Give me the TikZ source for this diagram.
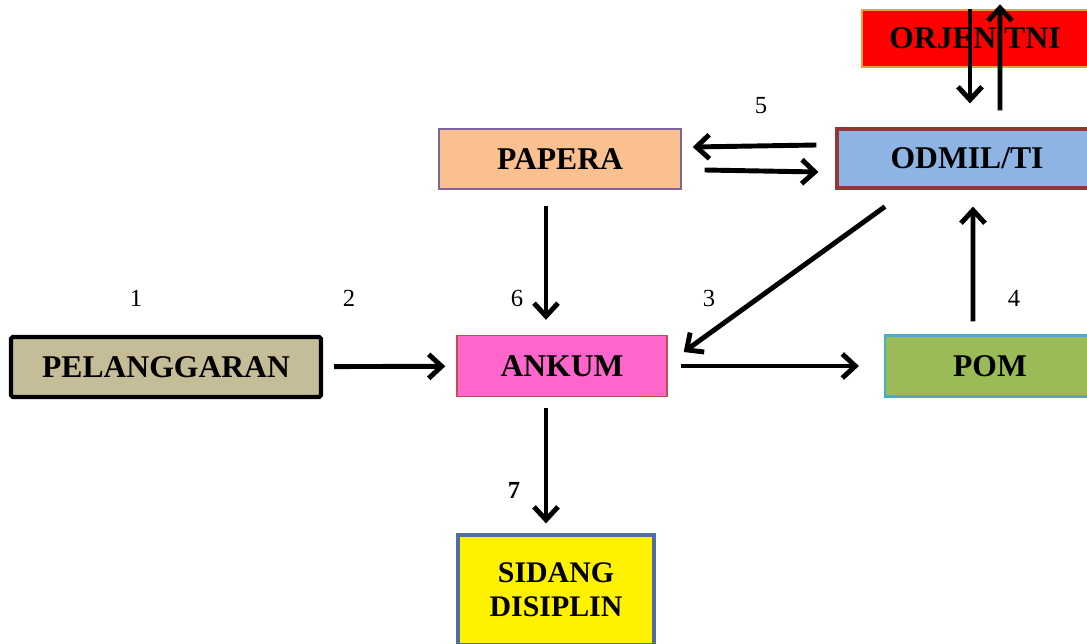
\documentclass[tikz,border=0pt]{standalone}
\usepackage{fontspec}
\setmainfont{Liberation Serif}
\usepackage{xcolor}
\usepackage{tikz}
\usetikzlibrary{arrows.meta,positioning}

\definecolor{orjenfill}{HTML}{FF0000}
\definecolor{orjenline}{HTML}{F79646}
\definecolor{odmilfill}{HTML}{8DB4E2}
\definecolor{odmilline}{HTML}{943634}
\definecolor{paperafill}{HTML}{FAC090}
\definecolor{paperaline}{HTML}{8064A2}
\definecolor{pelfill}{HTML}{C4BD97}
\definecolor{ankumfill}{HTML}{FF66CC}
\definecolor{ankumline}{HTML}{C0504D}
\definecolor{pomfill}{HTML}{9BBB59}
\definecolor{pomline}{HTML}{4BACC6}
\definecolor{sidangline}{HTML}{4F6FA0}

\begin{document}
\begin{tikzpicture}[
  font=\fontsize{18}{21}\selectfont\bfseries,
  box/.style={draw, rectangle, minimum height=1.22cm, align=center, inner sep=2pt},
  arrow/.style={-{Straight Barb[length=2.6mm,width=4.8mm]}, line width=2.8pt},
  num/.style={font=\fontsize{14}{16}\selectfont}
]
\clip (0,0) rectangle (21.74,12.86);

\node[box, fill=orjenfill, draw=orjenline, line width=0.8pt, minimum width=4.52cm, minimum height=1.14cm] (orjen) at (19.5,12.09) {ORJEN TNI};
\node[box, fill=odmilfill, draw=odmilline, line width=1.8pt, minimum width=5.2cm, minimum height=1.18cm] (odmil) at (19.34,9.69) {ODMIL/TI};
\node[box, fill=paperafill, draw=paperaline, line width=0.8pt, minimum width=4.84cm, minimum height=1.2cm] (papera) at (11.2,9.68) {PAPERA};
\node[box, fill=pelfill, draw=black, line width=2.4pt, rounded corners=1pt, minimum width=6.2cm, minimum height=1.2cm] (pelanggaran) at (3.32,5.52) {PELANGGARAN};
\node[box, fill=ankumfill, draw=ankumline, line width=0.8pt, minimum width=4.2cm] (ankum) at (11.24,5.54) {ANKUM};
\node[box, fill=pomfill, draw=pomline, line width=1.2pt, minimum width=4.2cm] (pom) at (19.8,5.54) {POM};
\node[box, fill=yellow, draw=sidangline, line width=1.8pt, minimum width=3.92cm, minimum height=2.2cm, font=\fontsize{17}{19.5}\selectfont\bfseries] (sidang) at (11.12,1.06) {SIDANG\\DISIPLIN};

% nomor
\node[num] (n1) at (2.72,6.9) {1};
\node[num] (n2) at (6.98,6.9) {2};
\node[num] (n6) at (10.34,6.9) {6};
\node[num] (n3) at (14.18,6.9) {3};
\node[num] (n4) at (20.28,6.9) {4};
\node[num] (n5) at (15.22,10.74) {5};
\node[num, font=\fontsize{14}{16}\selectfont\bfseries] (n7) at (10.28,3.06) {7};

\draw[arrow] ([xshift=-0.1cm]orjen.north) -- ([xshift=0.06cm,yshift=0.48cm]odmil.north);
\draw[arrow] ([xshift=0.66cm,yshift=0.34cm]odmil.north) -- ([xshift=0.5cm,yshift=0.1cm]orjen.north);
\draw[arrow] ([xshift=-0.38cm,yshift=0.27cm]odmil.west) -- ([xshift=0.22cm,yshift=0.24cm]papera.east);
\draw[arrow] ([xshift=0.46cm,yshift=-0.22cm]papera.east) -- ([xshift=-0.34cm,yshift=-0.27cm]odmil.west);
\draw[arrow] ([xshift=-0.28cm,yshift=-0.32cm]papera.south) -- ([xshift=-0.32cm,yshift=0.3cm]ankum.north);
\draw[arrow] ([xshift=-1.64cm,yshift=-0.34cm]odmil.south) -- ([xshift=0.32cm,yshift=0.28cm]ankum.east);
\draw[arrow, shorten <=0.22cm, shorten >=0.22cm] (pelanggaran) -- (ankum);
\draw[arrow, shorten <=0.26cm, shorten >=0.5cm] (ankum) -- (pom);
\draw[arrow] ([xshift=-0.34cm,yshift=0.26cm]pom.north) -- ([xshift=0.12cm,yshift=-0.34cm]odmil.south);
\draw[arrow] ([xshift=-0.32cm,yshift=-0.22cm]ankum.south) -- ([xshift=-0.2cm,yshift=0.2cm]sidang.north);
\end{tikzpicture}
\end{document}
